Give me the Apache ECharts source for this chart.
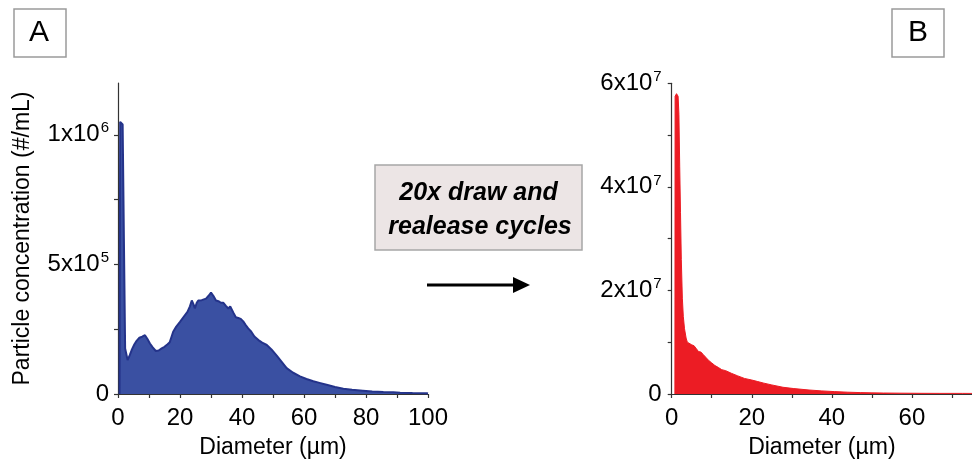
<!DOCTYPE html>
<html>
<head>
<meta charset="utf-8">
<script src="https://cdn.jsdelivr.net/npm/echarts@6/dist/echarts.min.js"></script>
<style>
html,body{margin:0;padding:0;background:#fff;}
#chart{width:972px;height:464px;}
</style>
</head>
<body>
<div id="chart"></div>
<script>
// ---- Panel A data (diameter in µm, concentration #/mL) ----
const leftDiameter = [0.5, 0.7, 1.3, 1.5, 1.9, 2.3, 3.1, 3.8, 4.5, 5.3, 6.0, 6.9, 7.8, 8.7, 9.5, 10.3, 11.2, 12.2, 13.1, 14.1, 15.0, 16.0, 16.7, 17.3, 17.8, 18.8, 20.0, 21.2, 22.4, 23.2, 23.8, 24.4, 24.8, 25.4, 25.9, 27.0, 28.4, 29.3, 30.0, 30.8, 31.6, 32.4, 33.2, 34.0, 34.8, 35.6, 36.2, 36.7, 37.3, 38.0, 38.8, 39.6, 40.4, 41.2, 42.0, 43.0, 44.0, 45.3, 46.5, 48.0, 49.5, 51.2, 52.8, 54.4, 56.5, 58.7, 60.8, 63.0, 65.0, 67.3, 70.0, 72.7, 75.5, 79.0, 82.0, 85.6, 88.8, 91.0, 95.0, 99.6, 100];
const leftConc = [0, 1050000, 1055000, 1040000, 600000, 176000, 131000, 150000, 172000, 192000, 205000, 217000, 221000, 227000, 212000, 195000, 180000, 166000, 168000, 176000, 182000, 192000, 200000, 222000, 240000, 260000, 278000, 298000, 317000, 338000, 361000, 345000, 330000, 352000, 361000, 362000, 368000, 380000, 391000, 378000, 361000, 358000, 352000, 352000, 340000, 330000, 338000, 336000, 312000, 296000, 293000, 290000, 280000, 266000, 253000, 240000, 222000, 208000, 198000, 189000, 172000, 148000, 124000, 100000, 82000, 68000, 58000, 49000, 43000, 36000, 27000, 20000, 16000, 13000, 10000, 8000, 7000, 5000, 4000, 3000, 2000];

// ---- Panel B data ----
const rightDiameter = [0.8, 0.85, 1.2, 1.6, 1.8, 2.0, 2.2, 2.4, 2.66, 2.9, 3.2, 3.6, 3.9, 4.2, 5.0, 5.6, 6.2, 6.7, 7.3, 7.9, 8.5, 9.2, 10.0, 10.8, 11.7, 12.5, 13.5, 14.9, 16.5, 18.2, 20.0, 21.5, 23.0, 25.0, 27.8, 30.5, 34.3, 37.5, 40.7, 44.0, 47.2, 50.0, 52.9, 57.0, 62.5, 67.0, 72.6, 75];
const rightConc = [0, 57500000, 58000000, 57500000, 54000000, 44000000, 35000000, 26000000, 18500000, 15000000, 12600000, 10800000, 10000000, 9700000, 9500000, 9300000, 8700000, 8200000, 8100000, 7600000, 7100000, 6500000, 6000000, 5500000, 5100000, 4700000, 4500000, 4000000, 3500000, 3000000, 2700000, 2400000, 2100000, 1750000, 1300000, 1050000, 770000, 600000, 460000, 350000, 270000, 220000, 190000, 160000, 130000, 120000, 120000, 110000];

// ---- Tick values ----
const leftXLabels = [0, 20, 40, 60, 80, 100];
const leftYLabels = [0, 500000, 1000000];
const leftYTicks = [0, 250000, 500000, 750000, 1000000];
const rightXLabels = [0, 20, 40, 60];
const rightXTicks = [0, 10, 20, 30, 40, 50, 60, 70];
const rightYLabels = [0, 20000000, 40000000, 60000000];

const FONT = "'Liberation Sans', Arial, sans-serif";
const AXIS_COLOR = '#333';

function sci(v) {
  if (v === 0) return '0';
  const e = Math.floor(Math.log10(v) + 1e-9);
  const m = Math.round(v / Math.pow(10, e));
  return m + 'x10{sup|' + e + '}';
}

const richLabel = {
  sup: { fontSize: 15, fontFamily: FONT, color: '#000', verticalAlign: 'top', padding: [0, 0, 13, 1] }
};

function zip(a, b) { return a.map((x, i) => [x, b[i]]); }

const chart = echarts.init(document.getElementById('chart'), null, { renderer: 'canvas' });

const baseAxisLine = { show: true, lineStyle: { color: AXIS_COLOR, width: 1.2 } };
const baseTick = { show: true, inside: false, length: 4, lineStyle: { color: AXIS_COLOR, width: 1.2 } };
const labelStyle = { color: '#000', fontSize: 24, fontFamily: FONT };
const nameStyle = { color: '#000', fontSize: 23, fontFamily: FONT };

const option = {
  animation: false,
  backgroundColor: '#fff',
  grid: [
    { left: 118, top: 83, width: 310, height: 313 },
    { left: 671.7, top: 83.3, width: 309.8, height: 312.4 }
  ],
  xAxis: [
    {
      type: 'value', gridIndex: 0, min: 0, max: 100, interval: 20,
      axisLine: baseAxisLine, axisTick: baseTick,
      minorTick: { show: true, splitNumber: 2, length: 4, lineStyle: { color: AXIS_COLOR, width: 1.2 } },
      splitLine: { show: false },
      axisLabel: Object.assign({ margin: 12, customValues: leftXLabels }, labelStyle),
      name: 'Diameter (µm)', nameLocation: 'middle', nameGap: 42, nameTextStyle: nameStyle
    },
    {
      type: 'value', gridIndex: 1, min: 0, max: 75,
      axisLine: baseAxisLine,
      axisTick: Object.assign({ customValues: rightXTicks }, baseTick),
      splitLine: { show: false },
      axisLabel: Object.assign({ margin: 12, customValues: rightXLabels }, labelStyle),
      name: 'Diameter (µm)', nameLocation: 'middle', nameGap: 42, nameTextStyle: nameStyle
    }
  ],
  yAxis: [
    {
      type: 'value', gridIndex: 0, min: 0, max: 1200000,
      axisLine: baseAxisLine,
      axisTick: Object.assign({ customValues: leftYTicks }, baseTick),
      splitLine: { show: false },
      axisLabel: Object.assign({ margin: 9, customValues: leftYLabels, formatter: sci, rich: richLabel }, labelStyle),
      name: 'Particle concentration (#/mL)', nameLocation: 'middle', nameGap: 84, nameTextStyle: nameStyle
    },
    {
      type: 'value', gridIndex: 1, min: 0, max: 60000000, interval: 20000000,
      axisLine: baseAxisLine, axisTick: baseTick,
      minorTick: { show: true, splitNumber: 2, length: 4, lineStyle: { color: AXIS_COLOR, width: 1.2 } },
      splitLine: { show: false },
      axisLabel: Object.assign({ margin: 10, customValues: rightYLabels, formatter: sci, rich: richLabel }, labelStyle)
    }
  ],
  series: [
    {
      type: 'line', xAxisIndex: 0, yAxisIndex: 0, data: zip(leftDiameter, leftConc),
      symbol: 'none', smooth: false,
      lineStyle: { color: '#24338a', width: 2 },
      areaStyle: { color: '#3a50a2', opacity: 1 }
    },
    {
      type: 'line', xAxisIndex: 1, yAxisIndex: 1, data: zip(rightDiameter, rightConc),
      symbol: 'none', smooth: false,
      lineStyle: { color: '#ec1c24', width: 1 },
      areaStyle: { color: '#ec1c24', opacity: 1 }
    }
  ],
  graphic: [
    { type: 'rect', shape: { x: 14, y: 9, width: 52, height: 48 }, style: { fill: '#fff', stroke: '#9a9a9a', lineWidth: 1.5 } },
    { type: 'text', x: 39, y: 33, style: { text: 'A', fontSize: 30, fontFamily: FONT, fill: '#000', align: 'center', verticalAlign: 'middle' } },
    { type: 'rect', shape: { x: 892, y: 9, width: 52, height: 48 }, style: { fill: '#fff', stroke: '#9a9a9a', lineWidth: 1.5 } },
    { type: 'text', x: 918, y: 33, style: { text: 'B', fontSize: 30, fontFamily: FONT, fill: '#000', align: 'center', verticalAlign: 'middle' } },
    { type: 'rect', shape: { x: 375, y: 165, width: 207, height: 85 }, style: { fill: '#ece5e5', stroke: '#a6a6a6', lineWidth: 1.5 } },
    { type: 'text', x: 478.5, y: 193, style: { text: '20x draw and', fontSize: 25, fontWeight: 'bold', fontStyle: 'italic', fontFamily: FONT, fill: '#000', align: 'center', verticalAlign: 'middle' } },
    { type: 'text', x: 480, y: 227, style: { text: 'realease cycles', fontSize: 25, fontWeight: 'bold', fontStyle: 'italic', fontFamily: FONT, fill: '#000', align: 'center', verticalAlign: 'middle' } },
    { type: 'line', shape: { x1: 427, y1: 285, x2: 516, y2: 285 }, style: { stroke: '#000', lineWidth: 3 } },
    { type: 'polygon', shape: { points: [[513, 277], [530, 285], [513, 293]] }, style: { fill: '#000' } }
  ]
};

chart.setOption(option);
</script>
</body>
</html>
